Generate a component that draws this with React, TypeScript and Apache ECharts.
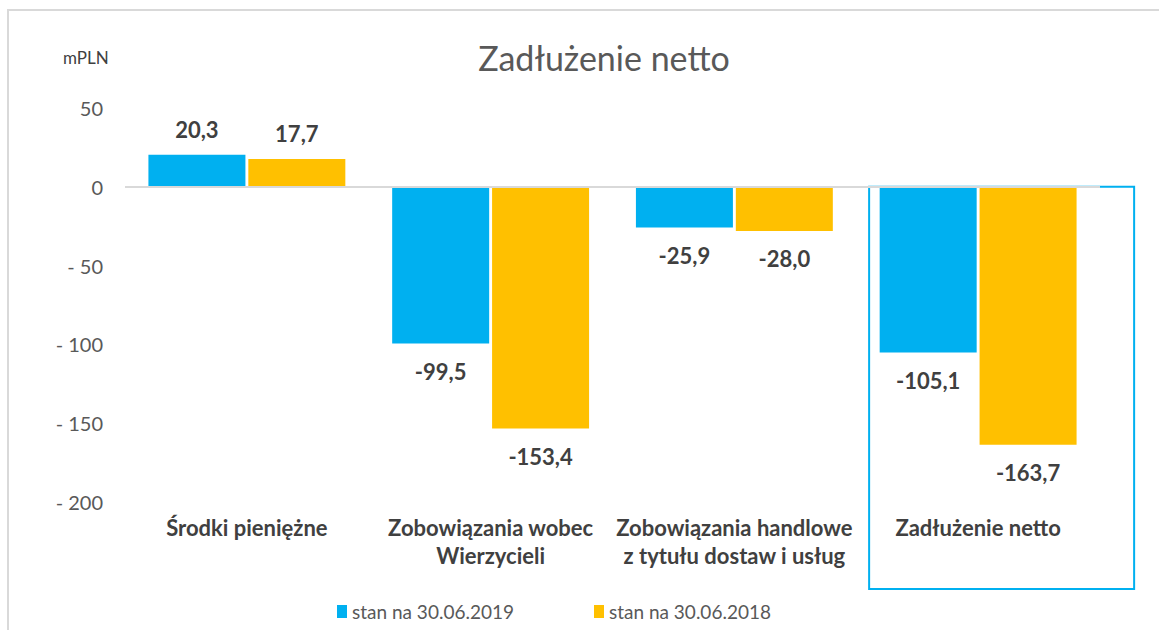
import React, { useEffect, useRef } from "react";
import * as echarts from "echarts";

const categories = [
  "Środki pieniężne",
  "Zobowiązania wobec\nWierzycieli",
  "Zobowiązania handlowe\nz tytułu dostaw i usług",
  "Zadłużenie netto",
];
const series2019 = [20.3, -99.5, -25.9, -105.1];
const series2018 = [17.7, -153.4, -28.0, -163.7];
const seriesNames = ["stan na 30.06.2019", "stan na 30.06.2018"];
const yTicks = { min: -200, max: 50, interval: 50 };

const FONT = "Lato, 'Open Sans', sans-serif";

function fmt(v: number) {
  return v.toFixed(1).replace(".", ",");
}

function toItems(values: number[]) {
  return values.map((v) => ({
    value: v,
    label: {
      position: v >= 0 ? "top" : "bottom",
      distance: v >= 0 ? 14 : 17,
    },
  }));
}

export default function App() {
  const ref = useRef<HTMLDivElement>(null);
  useEffect(() => {
    if (!ref.current) return;
    const chart = echarts.init(ref.current, undefined, { renderer: "svg" });
    const labelStyle = {
      show: true,
      formatter: (p: any) => fmt(p.value),
      fontSize: 22,
      fontWeight: "bold" as const,
      color: "#404040",
      fontFamily: FONT,
    };
    chart.setOption({
      animation: false,
      backgroundColor: "#ffffff",
      title: {
        text: "Zadłużenie netto",
        left: 599,
        textAlign: "center",
        top: 35,
        textStyle: {
          fontSize: 34,
          fontWeight: "normal",
          color: "#595959",
          fontFamily: FONT,
        },
      },
      legend: {
        left: 332,
        top: 597,
        icon: "rect",
        itemWidth: 10,
        itemHeight: 13,
        itemGap: 80,
        itemStyle: { borderWidth: 0 },
        textStyle: { fontSize: 19, color: "#595959", fontFamily: FONT },
        data: seriesNames,
      },
      grid: { left: 125, right: 59, top: 108, bottom: 128 },
      xAxis: {
        type: "category",
        data: categories,
        axisLine: { show: false },
        axisTick: { show: false },
        axisLabel: {
          interval: 0,
          margin: 11,
          fontSize: 22,
          fontWeight: "bold",
          color: "#404040",
          lineHeight: 28,
          fontFamily: FONT,
        },
      },
      yAxis: {
        type: "value",
        min: yTicks.min,
        max: yTicks.max,
        interval: yTicks.interval,
        axisLine: { show: false },
        axisTick: { show: false },
        splitLine: { show: false },
        axisLabel: {
          margin: 22,
          fontSize: 20,
          color: "#595959",
          fontFamily: FONT,
          formatter: (v: number) => (v < 0 ? "- " + Math.abs(v) : String(v)),
        },
      },
      series: [
        {
          name: seriesNames[0],
          type: "bar",
          data: toItems(series2019),
          barWidth: 97,
          barGap: "3%",
          itemStyle: { color: "#00B0F0" },
          label: labelStyle,
          markLine: {
            silent: true,
            symbol: "none",
            label: { show: false },
            lineStyle: { color: "#d9d9d9", type: "solid", width: 2 },
            data: [{ yAxis: 0 }],
          },
        },
        {
          name: seriesNames[1],
          type: "bar",
          data: toItems(series2018),
          barWidth: 97,
          barGap: "3%",
          itemStyle: { color: "#FFC000" },
          label: labelStyle,
        },
      ],
    });

    const cx = chart.convertToPixel({ xAxisIndex: 0 }, categories[3]) as number;
    const y0 = chart.convertToPixel({ yAxisIndex: 0 }, 0) as number;
    chart.setOption({
      graphic: [
        {
          type: "rect",
          shape: { x: 8, y: 10, width: 1300, height: 800 },
          style: { fill: "none", stroke: "#d9d9d9", lineWidth: 2 },
          silent: true,
        },
        {
          type: "rect",
          shape: { x: cx - 109, y: y0, width: 265, height: 589 - y0 },
          style: { fill: "none", stroke: "#00B0F0", lineWidth: 2 },
          silent: true,
        },
        {
          type: "text",
          x: 63,
          y: 49,
          style: {
            text: "mPLN",
            fontSize: 17,
            fill: "#404040",
            fontFamily: FONT,
          },
          silent: true,
        },
      ],
    });
    return () => chart.dispose();
  }, []);
  return (
    <div
      ref={ref}
      style={{ position: "fixed", left: 0, top: 0, width: 1159, height: 630 }}
    />
  );
}
